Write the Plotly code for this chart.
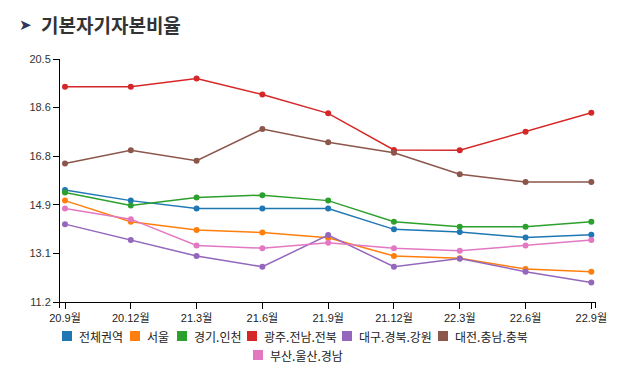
import plotly.graph_objects as go

categories = ["20.9월", "20.12월", "21.3월", "21.6월", "21.9월", "21.12월", "22.3월", "22.6월", "22.9월"]

series_names = ["전체권역", "서울", "경기.인천", "광주.전남.전북", "대구.경북.강원", "대전.충남.충북", "부산.울산.경남"]

total = [15.49, 15.08, 14.78, 14.78, 14.78, 13.98, 13.88, 13.67, 13.77]
seoul = [15.08, 14.27, 13.96, 13.86, 13.66, 12.96, 12.87, 12.46, 12.36]
gyeonggi = [15.39, 14.89, 15.20, 15.29, 15.08, 14.27, 14.08, 14.08, 14.27]
gwangju = [19.44, 19.44, 19.75, 19.14, 18.42, 17.02, 17.01, 17.72, 18.44]
daegu = [14.18, 13.57, 12.96, 12.55, 13.76, 12.55, 12.86, 12.36, 11.95]
daejeon = [16.50, 17.01, 16.61, 17.82, 17.31, 16.91, 16.09, 15.79, 15.79]
busan = [14.78, 14.37, 13.36, 13.26, 13.47, 13.26, 13.16, 13.36, 13.57]

y_tick_values = [11.2, 13.06, 14.92, 16.78, 18.64, 20.5]
y_tick_labels = ["11.2", "13.1", "14.9", "16.8", "18.6", "20.5"]

colors = ["#1f77b4", "#ff7f0e", "#2ca02c", "#d62728", "#9467bd", "#8c564b", "#e377c2"]
all_values = [total, seoul, gyeonggi, gwangju, daegu, daejeon, busan]

# page has an 8px body margin; figure sized to fit inside the window
OFF = 8
PAGE_W, PAGE_H = 622, 374
W, H = PAGE_W - 2 * OFF, PAGE_H - 2 * OFF
L, T = 60 - OFF, 59 - OFF
R = W - (596 - OFF)
B = H - (302 - OFF)
PW, PH = W - L - R, H - T - B

def px(x):
    return (x - OFF - L) / PW

def py(y):
    return (H - B - (y - OFF)) / PH

fig = go.Figure()
for name, vals, c in zip(series_names, all_values, colors):
    fig.add_trace(go.Scatter(
        x=categories, y=vals, name=name, mode="lines+markers",
        line=dict(color=c, width=1.5),
        marker=dict(color=c, size=6),
        showlegend=False, hoverinfo="x+y+name",
    ))

font_kr = "Noto Sans CJK KR, Liberation Sans, sans-serif"
font_tick = "Liberation Sans, Noto Sans CJK KR, sans-serif"

fig.update_xaxes(
    type="category", range=[-0.076, 8.071],
    showline=True, linecolor="black", linewidth=1,
    ticks="outside", ticklen=6, tickcolor="black", tickwidth=1,
    tickfont=dict(family=font_tick, size=11, color="#222"),
    showgrid=False, zeroline=False, automargin=False,
)
fig.update_yaxes(
    range=[11.2, 20.5], tickvals=y_tick_values, ticktext=y_tick_labels,
    showline=True, linecolor="black", linewidth=1,
    ticks="outside", ticklen=6, tickcolor="black", tickwidth=1,
    tickfont=dict(family=font_tick, size=11, color="#333"),
    showgrid=False, zeroline=False, automargin=False,
)

shapes = []
annotations = []
# outer end ticks of the x domain
for xe in (59.5, 595.5):
    shapes.append(dict(type="line", xref="paper", yref="paper",
                       x0=px(xe), x1=px(xe), y0=py(302), y1=py(308),
                       line=dict(color="black", width=1)))

# manual legend (square swatches + labels)
legend_rows = [
    (336, [62, 130, 177, 247, 342, 438], [0, 1, 2, 3, 4, 5]),
    (355, [253], [6]),
]
for ycen, xs, idxs in legend_rows:
    for xl, i in zip(xs, idxs):
        shapes.append(dict(type="rect", xref="paper", yref="paper",
                           x0=px(xl), x1=px(xl + 10), y0=py(ycen + 5), y1=py(ycen - 5),
                           fillcolor=colors[i], line=dict(width=0)))
        annotations.append(dict(xref="paper", yref="paper", x=px(xl + 15), y=py(ycen),
                                xanchor="left", yanchor="middle", showarrow=False,
                                text=series_names[i],
                                font=dict(family=font_kr, size=12, color="#222")))

# title
annotations.append(dict(xref="paper", yref="paper", x=px(17), y=py(25),
                        xanchor="left", yanchor="middle", showarrow=False,
                        text="➤", font=dict(family="DejaVu Sans", size=15, color="#2d3561")))
annotations.append(dict(xref="paper", yref="paper", x=px(39), y=py(25),
                        xanchor="left", yanchor="middle", showarrow=False,
                        text="<b>기본자기자본비율</b>",
                        font=dict(family=font_kr, size=19, color="#333")))

fig.update_layout(
    width=W, height=H, margin=dict(l=L, r=R, t=T, b=B, pad=0),
    paper_bgcolor="white", plot_bgcolor="white",
    shapes=shapes, annotations=annotations, showlegend=False,
)

fig.write_html("out.html")
